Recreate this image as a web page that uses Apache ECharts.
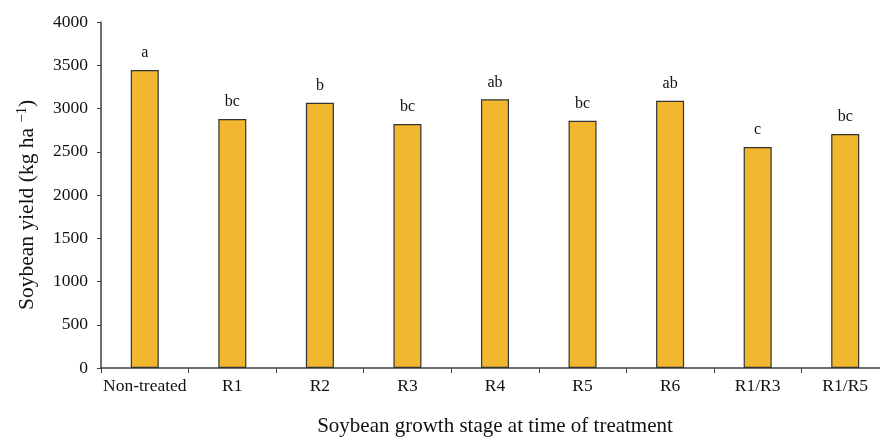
<!DOCTYPE html>
<html><head><meta charset="utf-8">
<script src="https://cdn.jsdelivr.net/npm/echarts@6/dist/echarts.min.js"></script>
<style>html,body{margin:0;padding:0;background:#fff}#c{width:880px;height:438px}</style>
</head><body><div id="c"></div>
<script>
const categories = ['Non-treated','R1','R2','R3','R4','R5','R6','R1/R3','R1/R5'];
const yieldValues = [3445, 2879, 3067, 2821, 3106, 2859, 3090, 2555, 2705];
const letters = ['a','bc','b','bc','ab','bc','ab','c','bc'];
const yTicks = {min: 0, max: 4000, interval: 500};

const font = '"Liberation Serif", "Times New Roman", serif';
const chart = echarts.init(document.getElementById('c'), null, {renderer: 'canvas'});
chart.setOption({
  animation: false,
  grid: {left: 101, top: 22, width: 788, height: 346, containLabel: false, outerBoundsMode: 'none'},
  xAxis: {
    type: 'category', data: categories,
    axisLine: {lineStyle: {color: '#404040', width: 1.5}},
    axisTick: {show: true, length: 5, lineStyle: {color: '#404040'}},
    axisLabel: {color: '#111', fontFamily: font, fontSize: 17.5, margin: 9, interval: 0},
    name: 'Soybean growth stage at time of treatment', nameLocation: 'middle', nameGap: 48,
    nameTextStyle: {color: '#111', fontFamily: font, fontSize: 21}
  },
  yAxis: {
    type: 'value', min: yTicks.min, max: yTicks.max, interval: yTicks.interval,
    splitLine: {show: false},
    axisLine: {show: true, lineStyle: {color: '#404040', width: 1.5}},
    axisTick: {show: true, length: 4, lineStyle: {color: '#404040'}},
    axisLabel: {color: '#111', fontFamily: font, fontSize: 17.5, margin: 13, formatter: v => String(v)},
    name: '{a|Soybean yield (kg ha }{s|−1}{a|)}', nameLocation: 'middle', nameGap: 62,
    nameTextStyle: {
      padding: [0, 20, 0, 0],
      rich: {
        a: {color: '#111', fontFamily: font, fontSize: 21.5},
        s: {color: '#111', fontFamily: font, fontSize: 14.5, padding: [0, 0, 9, 0]}
      }
    }
  },
  series: [{
    type: 'bar', data: yieldValues, barWidth: '32%',
    itemStyle: {color: '#F0B72F', borderColor: '#333', borderWidth: 1.2},
    label: {
      show: true, position: 'top', distance: 9,
      fontFamily: font, fontSize: 16, color: '#111',
      formatter: p => letters[p.dataIndex]
    }
  }]
});
</script></body></html>
